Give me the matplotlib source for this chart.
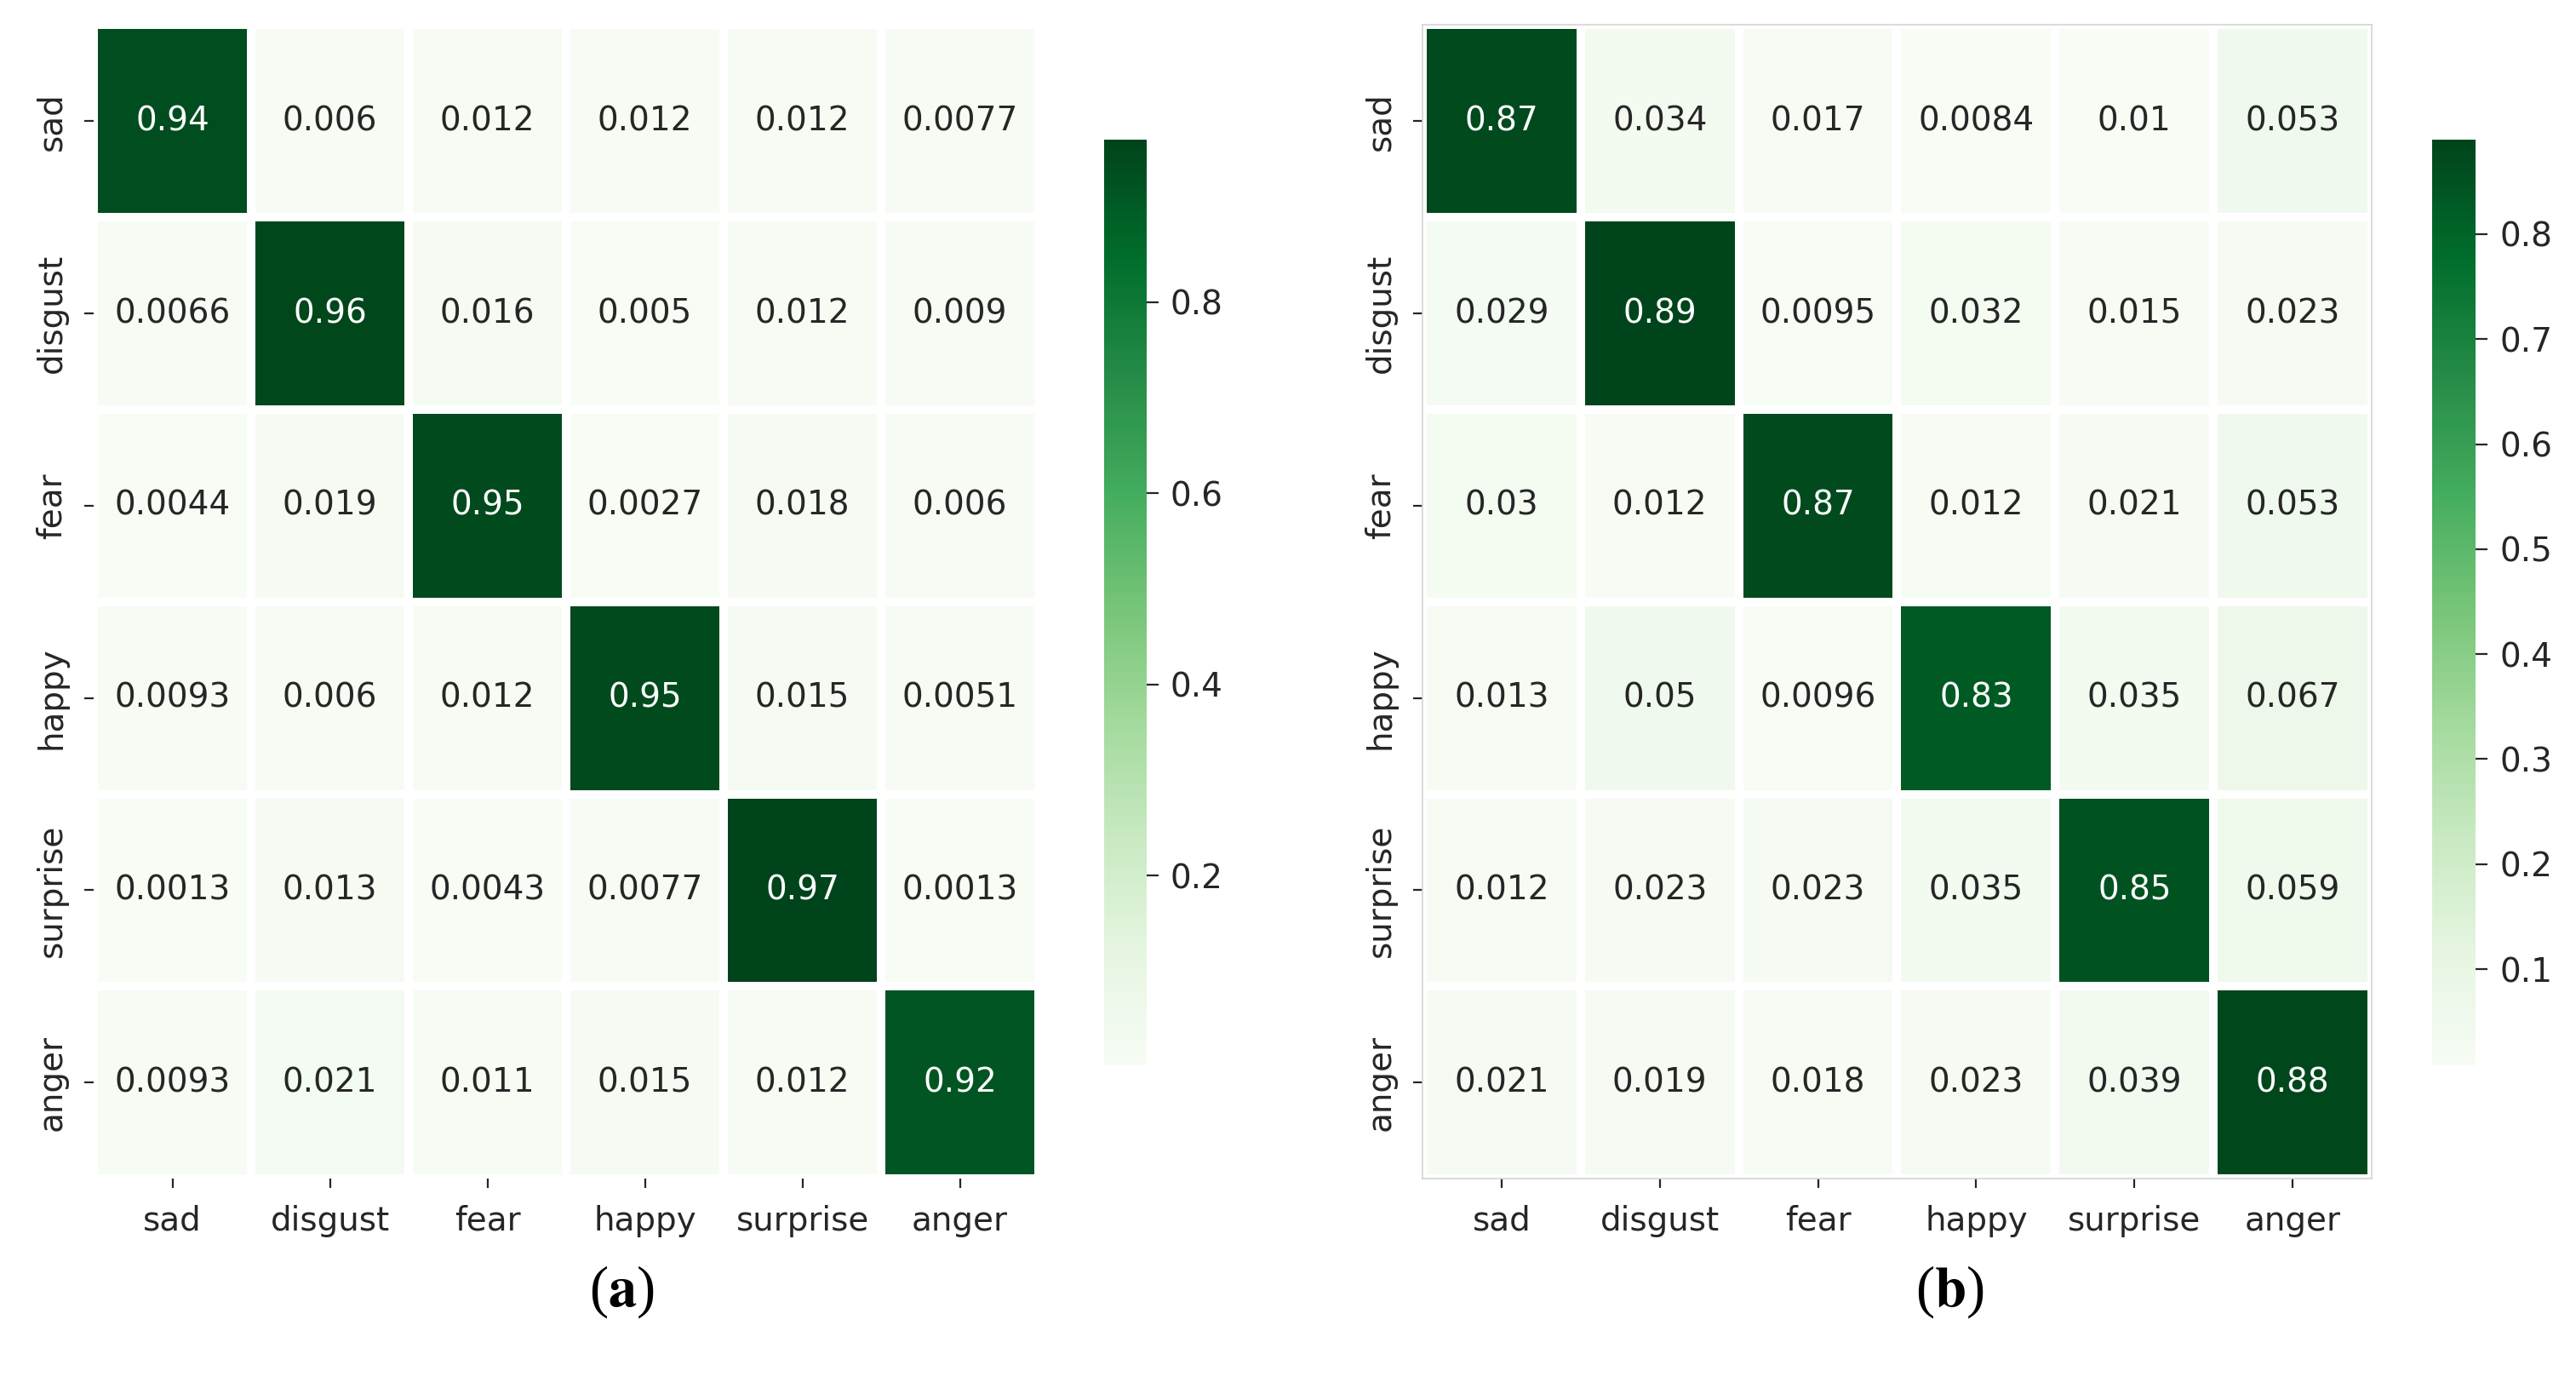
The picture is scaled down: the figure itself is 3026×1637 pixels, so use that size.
import numpy as np
import matplotlib
matplotlib.use("Agg")
import matplotlib.pyplot as plt
import seaborn as sns

labels = ["sad", "disgust", "fear", "happy", "surprise", "anger"]

# confusion matrix (a)
cm_a = [
    [0.94, 0.006, 0.012, 0.012, 0.012, 0.0077],
    [0.0066, 0.96, 0.016, 0.005, 0.012, 0.009],
    [0.0044, 0.019, 0.95, 0.0027, 0.018, 0.006],
    [0.0093, 0.006, 0.012, 0.95, 0.015, 0.0051],
    [0.0013, 0.013, 0.0043, 0.0077, 0.97, 0.0013],
    [0.0093, 0.021, 0.011, 0.015, 0.012, 0.92],
]

# confusion matrix (b)
cm_b = [
    [0.87, 0.034, 0.017, 0.0084, 0.01, 0.053],
    [0.029, 0.89, 0.0095, 0.032, 0.015, 0.023],
    [0.03, 0.012, 0.87, 0.012, 0.021, 0.053],
    [0.013, 0.05, 0.0096, 0.83, 0.035, 0.067],
    [0.012, 0.023, 0.023, 0.035, 0.85, 0.059],
    [0.021, 0.019, 0.018, 0.023, 0.039, 0.88],
]

panel_names = ["a", "b"]

plt.rcParams["mathtext.fontset"] = "stix"
fs = 28

fig = plt.figure(figsize=(30.26, 16.37), dpi=100)

ax_a = fig.add_axes([0.0364, 0.1545, 0.3668, 0.8275])
cb_a = fig.add_axes([0.4286, 0.2358, 0.0165, 0.664])
ax_b = fig.add_axes([0.5522, 0.1545, 0.3685, 0.8275])
cb_b = fig.add_axes([0.9441, 0.2358, 0.0170, 0.664])

for ax, cax, cm, name, xc in [(ax_a, cb_a, cm_a, panel_names[0], 0.2413),
                              (ax_b, cb_b, cm_b, panel_names[1], 0.757)]:
    sns.heatmap(np.array(cm), ax=ax, cbar_ax=cax, cmap="Greens", annot=True,
                fmt=".2g", linewidths=6, linecolor="white",
                xticklabels=labels, yticklabels=labels,
                annot_kws={"size": fs})
    ax.tick_params(axis="both", labelsize=fs, length=8, width=1.6,
                   color="#262626", labelcolor="#262626", pad=14)
    ax.set_yticklabels(labels, rotation=90, va="center")
    ax.set_xticklabels(labels, rotation=0)
    cax.tick_params(labelsize=fs, length=10, width=1.6, color="#262626",
                    labelcolor="#262626", pad=10)
    fig.text(xc, 0.073, "(" + r"$\mathbf{" + name + "}$" + ")",
             ha="center", va="center", fontsize=48, family="Liberation Serif")

# panel (b) keeps a faint frame
for sp in ax_b.spines.values():
    sp.set_visible(True)
    sp.set_color("#d4d4d4")
    sp.set_linewidth(1.2)

fig.savefig("out.png", dpi=100, facecolor="white")
